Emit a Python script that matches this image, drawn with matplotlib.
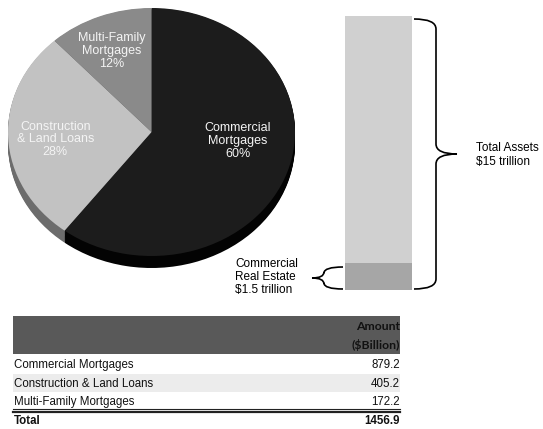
import numpy as np
import matplotlib
matplotlib.use("Agg")
import matplotlib.pyplot as plt
from matplotlib.path import Path
from matplotlib.patches import PathPatch, Rectangle

plt.rcParams['font.family'] = ['Liberation Sans', 'DejaVu Sans']

# loan mix (share of commercial real estate debt)
categories = ["Commercial Mortgages", "Construction & Land Loans", "Multi-Family Mortgages"]
amounts = [879.2, 405.2, 172.2]          # $ billion
amount_labels = ["879.2", "405.2", "172.2"]
total_label = "1456.9"
pie_labels = ["Commercial\nMortgages\n60%", "Construction\n& Land Loans\n28%", "Multi-Family\nMortgages\n12%"]

# bank balance sheet ($ trillion)
total_assets = 15.0
cre_assets = 1.5

W, H = 543, 429
fig = plt.figure(figsize=(W / 100, H / 100), dpi=100)
fig.patch.set_facecolor('white')


def px_axes(x0, y0, w, h):
    """axes placed by pixel box (top-left origin)"""
    return fig.add_axes([x0 / W, 1 - (y0 + h) / H, w / W, h / H])


# ── pie with a little depth ──────────────────────────────────────────────
face_w, face_h, depth = 287, 248, 12
ax_pie = px_axes(8, 8, face_w, face_h + depth)
d = 2 * depth / face_h
face_cols = ['#1c1c1c', '#c2c2c2', '#8a8a8a']
side_cols = ['#030303', '#6c6c6c', '#5a5a5a']
for off in np.linspace(d, 0.005, 14):
    ax_pie.pie(amounts, startangle=90, counterclock=False, colors=side_cols,
               center=(0, -off), radius=1, wedgeprops=dict(linewidth=0))
ax_pie.pie(amounts, startangle=90, counterclock=False, colors=face_cols,
           center=(0, 0), radius=1, wedgeprops=dict(linewidth=0))
ax_pie.set_aspect('auto')
ax_pie.set_xlim(-1, 1)
ax_pie.set_ylim(-1 - d, 1)
ax_pie.axis('off')

label_xy = [(0.60, -0.07), (-0.67, -0.06), (-0.275, 0.65)]
for (lx, ly), txt in zip(label_xy, pie_labels):
    ax_pie.text(lx, ly, txt, ha='center', va='center', color='#f4f4f4',
                fontsize=9, linespacing=1.1)

# ── stacked bar: total assets vs CRE ─────────────────────────────────────
ax_bar = px_axes(345, 16, 67, 274)
ax_bar.bar(0, cre_assets, width=1, color='#a6a6a6', linewidth=0)
ax_bar.bar(0, total_assets - cre_assets, bottom=cre_assets, width=1,
           color='#d0d0d0', linewidth=0)
ax_bar.set_xlim(-0.5, 0.5)
ax_bar.set_ylim(0, total_assets)
ax_bar.axis('off')

# overlay in pixel coordinates for braces, notes and the table
ax = fig.add_axes([0, 0, 1, 1])
ax.set_xlim(0, W)
ax.set_ylim(H, 0)
ax.axis('off')
ax.set_zorder(5)
ax.patch.set_alpha(0)


def brace(x_end, x_spine, x_tip, y0, y1, r=8):
    ym = (y0 + y1) / 2
    verts = [(x_end, y0), (x_spine, y0), (x_spine, y0 + r),
             (x_spine, ym - r),
             (x_spine, ym), (x_tip, ym),
             (x_spine, ym), (x_spine, ym + r),
             (x_spine, y1 - r),
             (x_spine, y1), (x_end, y1)]
    codes = [Path.MOVETO, Path.CURVE3, Path.CURVE3,
             Path.LINETO,
             Path.CURVE3, Path.CURVE3,
             Path.CURVE3, Path.CURVE3,
             Path.LINETO,
             Path.CURVE3, Path.CURVE3]
    ax.add_patch(PathPatch(Path(verts, codes), fill=False, lw=1.2, color='black'))


brace(414, 436, 457, 19, 289, r=10)
brace(343, 324, 312, 267, 289, r=6)

ax.text(476, 155, "Total Assets\n$15 trillion", ha='left', va='center',
        fontsize=8.5, linespacing=1.15)
ax.text(235, 277, "Commercial\nReal Estate\n$1.5 trillion", ha='left', va='center',
        fontsize=8.5, linespacing=1.15)

# ── table ────────────────────────────────────────────────────────────────
tx0, tx1 = 13, 400
ax.add_patch(Rectangle((tx0, 316), tx1 - tx0, 38, color='#595959', lw=0))
ax.text(tx1, 326, "Amount", ha='right', va='center', fontsize=8.8,
        fontweight='bold', color='#111111', family=['Lato', 'DejaVu Sans'])
ax.text(tx1, 345, "($Billion)", ha='right', va='center', fontsize=8.8,
        fontweight='bold', color='#111111', family=['Lato', 'DejaVu Sans'])

row_y = [365, 384, 402]
ax.add_patch(Rectangle((tx0, 374), tx1 - tx0, 18, color='#ececec', lw=0))
for y, name, val in zip(row_y, categories, amount_labels):
    ax.text(tx0 + 1, y, name, ha='left', va='center', fontsize=8.3, color='#111111')
    ax.text(tx1, y, val, ha='right', va='center', fontsize=8.3, color='#111111')
ax.plot([tx0, tx1], [409, 409], color='#222222', lw=0.8)
ax.plot([tx0, tx1], [412, 412], color='#222222', lw=1.6)
ax.text(tx0 + 1, 421, "Total", ha='left', va='center', fontsize=8.3,
        fontweight='bold', color='#111111')
ax.text(tx1, 421, total_label, ha='right', va='center', fontsize=8.3,
        fontweight='bold', color='#111111')

fig.savefig('out.png', dpi=100, facecolor='white')
